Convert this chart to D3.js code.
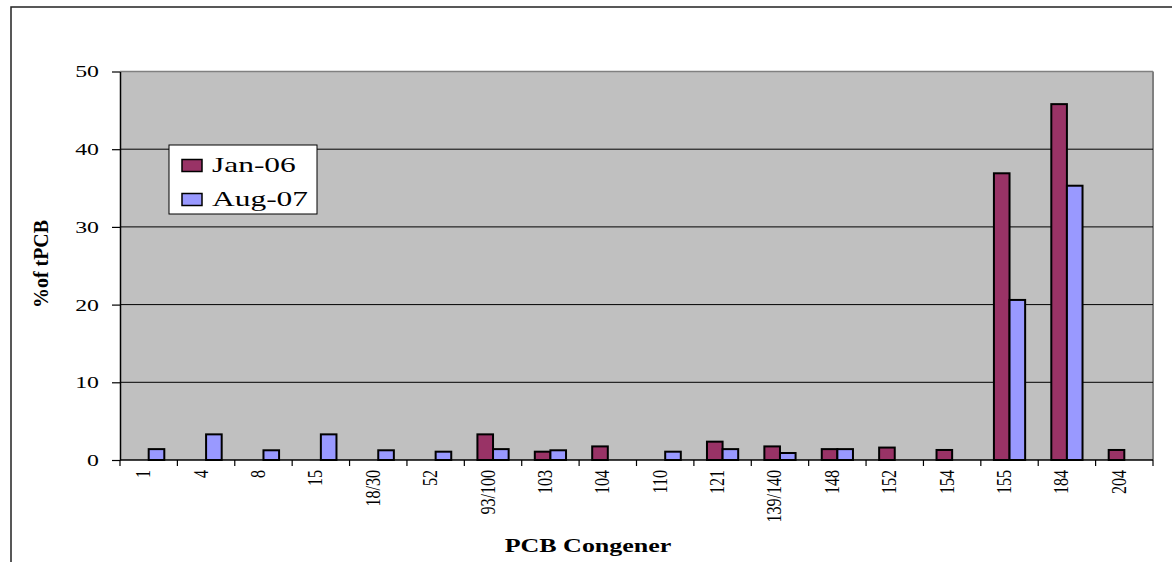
<!DOCTYPE html>
<html>
<head>
<meta charset="utf-8">
<script src="https://cdn.jsdelivr.net/npm/d3@7"></script>
<style>
  html, body { margin: 0; padding: 0; background: #fff; }
  svg { display: block; }
  text { font-family: "Liberation Serif", "Times New Roman", serif; fill: #000; }
</style>
</head>
<body>
<svg id="chart" width="1172" height="562"></svg>
<script>
const categories = ["1","4","8","15","18/30","52","93/100","103","104","110","121","139/140","148","152","154","155","184","204"];
const jan06 = [0,0,0,0,0,0,3.3,1.07,1.75,0,2.36,1.75,1.4,1.6,1.29,36.9,45.8,1.29];
const aug07 = [1.4,3.3,1.25,3.3,1.25,1.07,1.4,1.25,0,1.07,1.4,0.9,1.4,0,0,20.6,35.3,0];
const seriesNames = ["Jan-06","Aug-07"];
const seriesColors = ["#993366","#9999FF"];
const yTicks = [0,10,20,30,40,50];

const svg = d3.select("#chart");
const L = 120, R = 1153, T = 71.5, B = 460;

// outer chart border
svg.append("rect").attr("x",11).attr("y",7).attr("width",1200).attr("height",600)
  .attr("fill","none").attr("stroke","#222").attr("stroke-width",1.5);

const x = d3.scaleBand().domain(categories).range([L,R]).padding(0);
const y = d3.scaleLinear().domain([0,50]).range([B,T]);
const step = x.bandwidth();
const bw = step*0.272;

// plot area
svg.append("rect").attr("x",L).attr("y",T).attr("width",R-L).attr("height",B-T).attr("fill","#C0C0C0");
svg.append("line").attr("x1",L).attr("x2",R).attr("y1",T).attr("y2",T).attr("stroke","#808080").attr("stroke-width",1.5);
svg.append("line").attr("x1",R).attr("x2",R).attr("y1",T).attr("y2",B).attr("stroke","#808080").attr("stroke-width",2);

// gridlines
svg.append("g").selectAll("line").data(yTicks.filter(d=>d>0 && d<50)).join("line")
  .attr("x1",L).attr("x2",R).attr("y1",d=>y(d)).attr("y2",d=>y(d))
  .attr("stroke","#000").attr("stroke-width",1);

// bars
const series = [jan06, aug07];
series.forEach((vals, si) => {
  svg.append("g").selectAll("rect").data(categories.map((c,i)=>({c, v: vals[i]})).filter(d=>d.v>0)).join("rect")
    .attr("x", d => x(d.c) + step/2 - bw + si*bw)
    .attr("y", d => y(d.v))
    .attr("width", bw)
    .attr("height", d => y(0) - y(d.v))
    .attr("fill", seriesColors[si])
    .attr("stroke","#000").attr("stroke-width",2);
});

// y axis
const yAxis = svg.append("g").attr("transform",`translate(${L},0)`)
  .call(d3.axisLeft(y).tickValues(yTicks).tickSize(8).tickSizeOuter(0).tickFormat(d3.format("d")));
yAxis.select(".domain").attr("stroke","#000").attr("stroke-width",1.5);
yAxis.selectAll(".tick line").attr("stroke","#000").attr("stroke-width",1.2);
yAxis.selectAll(".tick text").attr("font-size",17).attr("font-family","Liberation Serif, Times New Roman, serif")
  .attr("x",-15).attr("transform","scale(1.4,1)");

// x axis
svg.append("line").attr("x1",L).attr("x2",R).attr("y1",B).attr("y2",B).attr("stroke","#000").attr("stroke-width",1.5);
svg.append("g").selectAll("line").data(d3.range(categories.length+1)).join("line")
  .attr("x1",i=>L+i*step).attr("x2",i=>L+i*step).attr("y1",B).attr("y2",B+6)
  .attr("stroke","#000").attr("stroke-width",1.2);
svg.append("g").selectAll("text").data(categories).join("text")
  .attr("transform", c => `translate(${x(c)+step/2+1.5},470) rotate(-90) scale(1,1.25)`)
  .attr("text-anchor","end").attr("font-size",16).text(c=>c);

// axis titles
svg.append("text").attr("transform","translate(48,264) rotate(-90) scale(1,1.3)")
  .attr("text-anchor","middle").attr("font-weight","bold").attr("font-size",16.5)
  .attr("textLength",88).attr("lengthAdjust","spacingAndGlyphs").text("%of tPCB");
svg.append("text").attr("transform","translate(588,551.7) scale(1.39,1)")
  .attr("text-anchor","middle").attr("font-weight","bold").attr("font-size",18.7).text("PCB Congener");

// legend
const lg = svg.append("g");
lg.append("rect").attr("x",169).attr("y",145).attr("width",148).attr("height",69)
  .attr("fill","#fff").attr("stroke","#000").attr("stroke-width",1);
seriesNames.forEach((n,i) => {
  lg.append("rect").attr("x",182).attr("y",159.5+i*34).attr("width",20).attr("height",12)
    .attr("fill",seriesColors[i]).attr("stroke","#000").attr("stroke-width",1.5);
  lg.append("text").attr("transform",`translate(212,${171.5+i*34}) scale(1.43,1)`)
    .attr("font-size",22).text(n);
});
</script>
</body>
</html>
